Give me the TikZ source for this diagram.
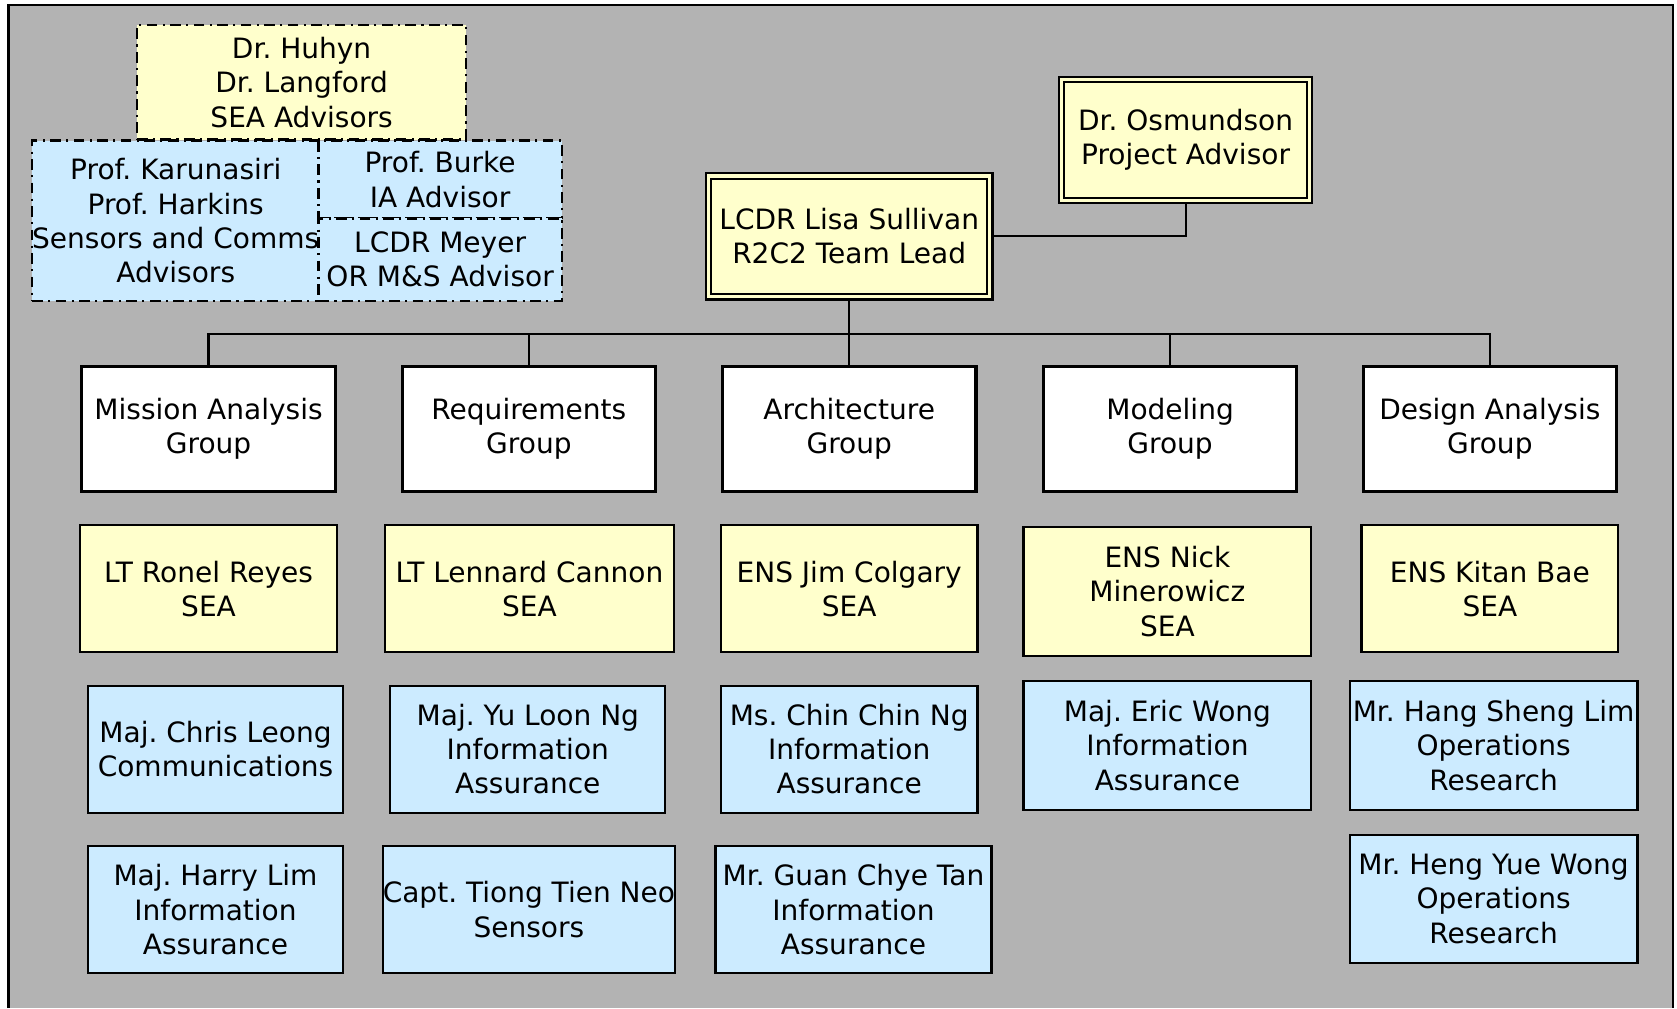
\documentclass[tikz,border=0pt]{standalone}
\usepackage{fontspec}
\setmainfont{DejaVu Sans}
\usepackage{tikz}
\frenchspacing
\definecolor{bggray}{RGB}{179,179,179}
\definecolor{ylw}{RGB}{255,255,204}
\definecolor{lblue}{RGB}{204,235,255}

\begin{document}
\begin{tikzpicture}[x=1pt,y=-1pt,
	box/.style={rectangle,draw=black,line width=2pt,inner sep=0pt,align=center,font=\fontsize{26.2}{32}\selectfont},
	grp/.style={box,fill=white,line width=3pt,minimum width=237pt,minimum height=117pt},
	sea/.style={box,fill=ylw,minimum height=119pt},
	staff/.style={box,fill=lblue,minimum height=119pt},
	advbox/.style={box,line width=2.2pt,dash pattern=on 10pt off 5pt on 2pt off 5pt},
	leadbox/.style={box,fill=ylw,double=ylw,double distance=3pt,outer sep=3.5pt,minimum height=113pt},
	conn/.style={line width=2pt}]
	\useasboundingbox (0,0) rectangle (1568,942.5);
	\fill[bggray] (7.9,4.7) rectangle (1564,942.5);
	\draw[line width=2pt] (7.9,942.5) -- (7.9,4.7) -- (1564,4.7) -- (1564,942.5);

	\node[advbox,fill=ylw,minimum width=308pt,minimum height=107pt] (sa) at (282,77) {Dr. Huhyn\\Dr. Langford\\SEA Advisors};
	\node[advbox,fill=lblue,minimum width=267pt,minimum height=150pt] (sc) at (164.3,206.5) {Prof. Karunasiri\\Prof. Harkins\\Sensors and Comms\\Advisors};
	\node[advbox,fill=lblue,minimum width=227.6pt,minimum height=72.6pt] (ia) at (411.5,167.8) {Prof. Burke\\IA Advisor};
	\node[advbox,fill=lblue,minimum width=227.6pt,minimum height=77.3pt] (om) at (411.5,242.8) {LCDR Meyer\\OR M\&S Advisor};

	\node[leadbox,minimum width=263pt] (lead) at (794,221) {LCDR Lisa Sullivan\\R2C2 Team Lead};
	\node[leadbox,minimum width=232pt] (osm) at (1108.5,131) {Dr. Osmundson\\Project Advisor};
	\draw[conn] (lead.east) -| (osm.south);

	\node[grp] (g1) at (195,401) {Mission Analysis\\Group};
	\node[grp] (g2) at (494.5,401) {Requirements\\Group};
	\node[grp] (g3) at (794,401) {Architecture\\Group};
	\node[grp] (g4) at (1094,401) {Modeling\\Group};
	\node[grp] (g5) at (1393,401) {Design Analysis\\Group};
	\coordinate (bus) at (794,312);
	\draw[conn] (lead.south) -- (bus);
	\draw[conn] (g1.north) |- (bus) -| (g5.north);
	\draw[conn] (g2.north) -- (g2.north |- bus);
	\draw[conn] (g3.north) -- (g3.north |- bus);
	\draw[conn] (g4.north) -- (g4.north |- bus);

	\node[sea,minimum width=240pt] (s1) at (195,550.5) {LT Ronel Reyes\\SEA};
	\node[sea,minimum width=270pt] (s2) at (495,550.5) {LT Lennard Cannon\\SEA};
	\node[sea,minimum width=240pt] (s3) at (794,550.5) {ENS Jim Colgary\\SEA};
	\node[sea,minimum width=269pt,minimum height=120pt] (s4) at (1091.5,553) {ENS Nick\\Minerowicz\\SEA};
	\node[sea,minimum width=240pt] (s5) at (1393,550.5) {ENS Kitan Bae\\SEA};

	\node[staff,minimum width=239pt] (b1) at (201.5,700.5) {Maj. Chris Leong\\Communications};
	\node[staff,minimum width=257pt] (b2) at (493.5,700.5) {Maj. Yu Loon Ng\\Information\\Assurance};
	\node[staff,minimum width=240pt] (b3) at (794,700.5) {Ms. Chin Chin Ng\\Information\\Assurance};
	\node[staff,minimum width=269pt,minimum height=120pt] (b4) at (1091.5,697) {Maj. Eric Wong\\Information\\Assurance};
	\node[staff,minimum width=269pt,minimum height=120pt] (b5) at (1396.5,697) {Mr. Hang Sheng Lim\\Operations\\Research};

	\node[staff,minimum width=239pt] (c1) at (201.5,850.5) {Maj. Harry Lim\\Information\\Assurance};
	\node[staff,minimum width=273pt] (c2) at (494.5,850.5) {Capt. Tiong Tien Neo\\Sensors};
	\node[staff,minimum width=258pt] (c3) at (798,850.5) {Mr. Guan Chye Tan\\Information\\Assurance};
	\node[staff,minimum width=269pt] (c5) at (1396.5,840.5) {Mr. Heng Yue Wong\\Operations\\Research};
\end{tikzpicture}
\end{document}
